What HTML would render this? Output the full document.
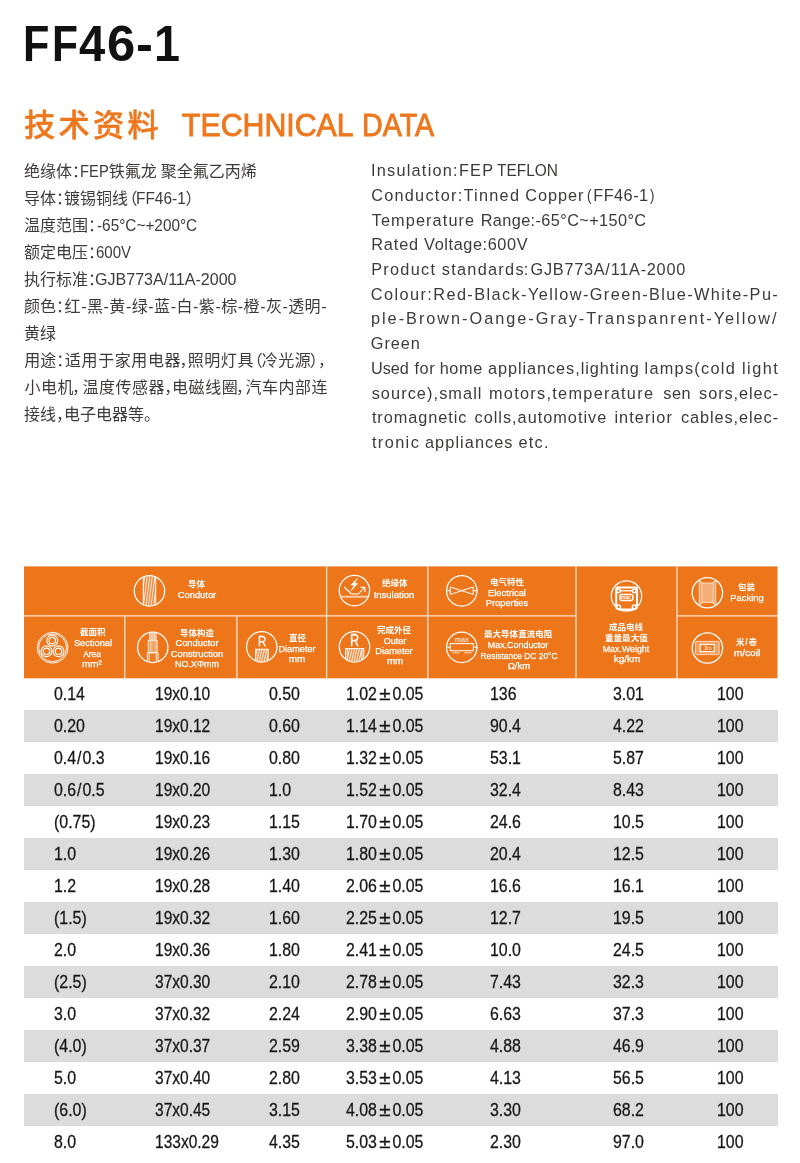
<!DOCTYPE html>
<html lang="zh"><head><meta charset="utf-8"><title>FF46-1</title><style>
html,body{margin:0;padding:0;background:#fff}
h1,h2{margin:0;font:inherit}
body{width:800px;height:1163px;position:relative;overflow:hidden;font-family:"Liberation Sans",sans-serif}
#pg{position:absolute;left:0;top:0;width:800px;height:1163px;will-change:transform}
.t{position:absolute;white-space:nowrap;line-height:1;display:block}
.c{position:absolute;display:block;overflow:visible}
.c text{font-family:"Liberation Sans","Noto Sans CJK SC",sans-serif}
.g{position:absolute;left:24px;width:753.5px;height:32px;background:#dcdcdc}
.d{position:absolute;white-space:nowrap;line-height:1;font-size:18.4px;color:#161616;-webkit-text-stroke:.28px #161616;transform:scaleX(0.865);transform-origin:0 0}
.d b{font-weight:normal;display:inline-block;width:17.9px;text-align:center;transform:scaleX(1.3)}
.d u{text-decoration:none;padding:0 1.1px}
</style></head><body><div id="pg">
<h1><span class="t" style="top:19.00px;font-size:50.8px;color:#111;font-weight:bold;left:23.15px;transform:scaleX(0.8494);transform-origin:0 0;">F</span><span class="t" style="top:19.00px;font-size:50.8px;color:#111;font-weight:bold;left:51.64px;transform:scaleX(0.8380);transform-origin:0 0;">F</span><span class="t" style="top:19.00px;font-size:50.8px;color:#111;font-weight:bold;left:78.50px;transform:scaleX(0.9274);transform-origin:0 0;">4</span><span class="t" style="top:19.00px;font-size:50.8px;color:#111;font-weight:bold;left:106.82px;transform:scaleX(0.9980);transform-origin:0 0;">6</span><span class="t" style="top:19.00px;font-size:50.8px;color:#111;font-weight:bold;left:136.11px;transform:scaleX(1.0005);transform-origin:0 0;">-</span><span class="t" style="top:19.00px;font-size:50.8px;color:#111;font-weight:bold;left:153.88px;transform:scaleX(0.9197);transform-origin:0 0;">1</span></h1>
<h2>
<svg class="c" style="left:23.50px;top:108.60px" width="140.00" height="31.20" viewBox="0 -880 4487 1000"><text x="0 1107 2213 3320" y="0" font-size="1000" font-weight="500" fill="#ee761c" stroke="#ee761c" stroke-width="14">技术资料</text></svg>
<span class="t" style="top:109.00px;font-size:32.2px;color:#ee761c;left:181.53px;transform:scaleX(0.9410);transform-origin:0 0;-webkit-text-stroke:0.9px #ee761c;">TECHNICAL</span>
<span class="t" style="top:109.00px;font-size:32.2px;color:#ee761c;left:361.51px;transform:scaleX(0.8890);transform-origin:0 0;-webkit-text-stroke:0.9px #ee761c;">DATA</span>
</h2>
<div class="lc">
<svg class="c" style="left:-0.40px;top:162.50px" width="340.00" height="16.00" viewBox="0 -880 21250 1000"><text x="1500 2500 3500 4500 6800 7800 8800 10050 11050 12050 13050 14050 15050" y="0" font-size="1000" fill="#3e3a39">绝缘体：铁氟龙聚全氟乙丙烯</text></svg>
<span class="t" style="top:163.00px;font-size:16.2px;color:#3e3a39;left:80.09px;transform:scaleX(0.9151);transform-origin:0 0;">FEP</span>
<svg class="c" style="left:-0.40px;top:189.50px" width="340.00" height="16.00" viewBox="0 -880 21250 1000"><text x="1500 2500 3500 4000 5000 6000 7000 7589 11592" y="0" font-size="1000" fill="#3e3a39">导体：镀锡铜线（）</text></svg>
<span class="t" style="top:190.00px;font-size:16.2px;color:#3e3a39;left:135.79px;transform:scaleX(0.9544);transform-origin:0 0;">FF46-1</span>
<svg class="c" style="left:-0.40px;top:216.50px" width="340.00" height="16.00" viewBox="0 -880 21250 1000"><text x="1500 2500 3500 4500 5500" y="0" font-size="1000" fill="#3e3a39">温度范围：</text></svg>
<span class="t" style="top:217.00px;font-size:16.2px;color:#3e3a39;left:96.52px;transform:scaleX(0.9484);transform-origin:0 0;">-65°C~+200°C</span>
<svg class="c" style="left:-0.40px;top:243.50px" width="340.00" height="16.00" viewBox="0 -880 21250 1000"><text x="1500 2500 3500 4500 5500" y="0" font-size="1000" fill="#3e3a39">额定电压：</text></svg>
<span class="t" style="top:244.00px;font-size:16.2px;color:#3e3a39;left:95.79px;transform:scaleX(0.9286);transform-origin:0 0;">600V</span>
<svg class="c" style="left:-0.40px;top:270.50px" width="340.00" height="16.00" viewBox="0 -880 21250 1000"><text x="1500 2500 3500 4500 5500" y="0" font-size="1000" fill="#3e3a39">执行标准：</text></svg>
<span class="t" style="top:271.00px;font-size:16.2px;color:#3e3a39;left:95.25px;transform:scaleX(0.9913);transform-origin:0 0;">GJB773A/11A-2000</span>
<svg class="c" style="left:-0.40px;top:297.50px" width="340.00" height="16.00" viewBox="0 -880 21250 1000"><text x="1500 2500 3500 4038 5076 5436 6474 6834 7872 8232 9270 9630 10668 11028 12066 12426 13465 13824 14863 15222 16261 16620 17659 18018 19026 20076" y="0" font-size="1000" fill="#3e3a39">颜色：红-黑-黄-绿-蓝-白-紫-棕-橙-灰-透明-</text></svg>
<svg class="c" style="left:-0.40px;top:324.50px" width="340.00" height="16.00" viewBox="0 -880 21250 1000"><text x="1500 2500" y="0" font-size="1000" fill="#3e3a39">黄绿</text></svg>
<svg class="c" style="left:-0.40px;top:351.50px" width="340.00" height="16.00" viewBox="0 -880 21250 1000"><text x="1519 2519 3519 4063 5099 6135 7172 8208 9244 10280 11219 11732 12768 13804 14840 15421 16353 17389 18425 19361 19869" y="0" font-size="1000" fill="#3e3a39">用途：适用于家用电器，照明灯具（冷光源），</text></svg>
<svg class="c" style="left:-0.40px;top:378.50px" width="340.00" height="16.00" viewBox="0 -880 21250 1000"><text x="1531 2562 3593 4500 5150 6181 7212 8244 9275 10269 10756 11787 12825 13856 14744 15337 16368 17399 18430 19461" y="0" font-size="1000" fill="#3e3a39">小电机，温度传感器，电磁线圈，汽车内部连</text></svg>
<svg class="c" style="left:-0.40px;top:405.50px" width="340.00" height="16.00" viewBox="0 -880 21250 1000"><text x="1500 2500 3500 4000 5000 6000 7000 8000 9000" y="0" font-size="1000" fill="#3e3a39">接线，电子电器等。</text></svg>
</div>
<div class="rc">
<span class="t" style="top:162.00px;font-size:16.3px;color:#3e3a39;left:370.93px;letter-spacing:1.250px;">Insulation:FEP</span>
<span class="t" style="top:162.00px;font-size:16.3px;color:#3e3a39;left:497.46px;transform:scaleX(0.9503);transform-origin:0 0;">TEFLON</span>
<span class="t" style="top:187.00px;font-size:16.3px;color:#3e3a39;left:371.14px;letter-spacing:1.267px;">Conductor:Tinned</span>
<span class="t" style="top:187.00px;font-size:16.3px;color:#3e3a39;left:525.14px;letter-spacing:0.997px;">Copper</span>
<span class="t" style="top:187.00px;font-size:16.3px;color:#3e3a39;left:586.88px;transform:scaleX(0.8180);transform-origin:0 0;">(</span>
<span class="t" style="top:187.00px;font-size:16.3px;color:#3e3a39;left:593.23px;letter-spacing:0.479px;">FF46-1</span>
<span class="t" style="top:187.00px;font-size:16.3px;color:#3e3a39;left:650.00px;transform:scaleX(0.8180);transform-origin:0 0;">)</span>
<span class="t" style="top:212.00px;font-size:16.3px;color:#3e3a39;left:371.65px;letter-spacing:1.111px;">Temperature</span>
<span class="t" style="top:212.00px;font-size:16.3px;color:#3e3a39;left:480.63px;letter-spacing:0.397px;">Range:-65°C~+150°C</span>
<span class="t" style="top:236.00px;font-size:16.3px;color:#3e3a39;left:371.13px;letter-spacing:0.898px;">Rated</span>
<span class="t" style="top:236.00px;font-size:16.3px;color:#3e3a39;left:424.10px;letter-spacing:0.595px;">Voltage:600V</span>
<span class="t" style="top:261.00px;font-size:16.3px;color:#3e3a39;left:371.13px;letter-spacing:1.291px;">Product</span>
<span class="t" style="top:261.00px;font-size:16.3px;color:#3e3a39;left:441.75px;letter-spacing:1.285px;">standards</span>
<span class="t" style="top:261.00px;font-size:16.3px;color:#3e3a39;left:523.73px;letter-spacing:0.217px;">:</span>
<span class="t" style="top:261.00px;font-size:16.3px;color:#3e3a39;left:530.49px;letter-spacing:0.743px;">GJB773A/11A-2000</span>
<span class="t" style="top:286.00px;font-size:16.3px;color:#3e3a39;left:370.84px;letter-spacing:1.419px;">Colour:Red-Black-Yellow-Green-Blue-White-Pu-</span>
<span class="t" style="top:310.00px;font-size:16.3px;color:#3e3a39;left:370.98px;letter-spacing:1.980px;">ple-Brown-Oange-Gray-Transpanrent-Yellow/</span>
<span class="t" style="top:335.00px;font-size:16.3px;color:#3e3a39;left:370.84px;letter-spacing:0.944px;">Green</span>
<span class="t" style="top:360.00px;font-size:16.3px;color:#3e3a39;left:370.98px;transform:scaleX(0.9967);transform-origin:0 0;">Used</span>
<span class="t" style="top:360.00px;font-size:16.3px;color:#3e3a39;left:414.50px;letter-spacing:0.529px;">for</span>
<span class="t" style="top:360.00px;font-size:16.3px;color:#3e3a39;left:439.73px;letter-spacing:0.585px;">home</span>
<span class="t" style="top:360.00px;font-size:16.3px;color:#3e3a39;left:487.99px;letter-spacing:0.934px;">appliances,lighting</span>
<span class="t" style="top:360.00px;font-size:16.3px;color:#3e3a39;left:644.48px;letter-spacing:1.292px;">lamps(cold</span>
<span class="t" style="top:360.00px;font-size:16.3px;color:#3e3a39;left:741.98px;letter-spacing:1.465px;">light</span>
<span class="t" style="top:385.00px;font-size:16.3px;color:#3e3a39;left:371.65px;letter-spacing:1.084px;">source),small</span>
<span class="t" style="top:385.00px;font-size:16.3px;color:#3e3a39;left:488.98px;letter-spacing:1.291px;">motors,temperature</span>
<span class="t" style="top:385.00px;font-size:16.3px;color:#3e3a39;left:663.25px;letter-spacing:0.495px;">sen</span>
<span class="t" style="top:385.00px;font-size:16.3px;color:#3e3a39;left:699.05px;letter-spacing:0.944px;">sors,elec-</span>
<span class="t" style="top:409.00px;font-size:16.3px;color:#3e3a39;left:371.90px;letter-spacing:0.939px;">tromagnetic</span>
<span class="t" style="top:409.00px;font-size:16.3px;color:#3e3a39;left:474.49px;letter-spacing:1.003px;">colls,automotive</span>
<span class="t" style="top:409.00px;font-size:16.3px;color:#3e3a39;left:614.38px;letter-spacing:1.096px;">interior</span>
<span class="t" style="top:409.00px;font-size:16.3px;color:#3e3a39;left:680.89px;letter-spacing:0.938px;">cables,elec-</span>
<span class="t" style="top:434.00px;font-size:16.3px;color:#3e3a39;left:371.90px;letter-spacing:1.419px;">tronic</span>
<span class="t" style="top:434.00px;font-size:16.3px;color:#3e3a39;left:424.99px;letter-spacing:1.076px;">appliances</span>
<span class="t" style="top:434.00px;font-size:16.3px;color:#3e3a39;left:518.49px;letter-spacing:1.236px;">etc.</span>
</div>
<div class="tb">
<svg class="c" style="left:0;top:0" width="800" height="700" viewBox="0 0 800 700"><rect x="24" y="566.4" width="753.5" height="111.9" fill="#ee761a"/><path stroke="#fff" stroke-opacity=".8" stroke-width="1.3" fill="none" d="M124.8 616V678.3M236.9 616V678.3M326.6 566.4V678.3M427.8 566.4V678.3M576 566.4V678.3M677 566.4V678.3M24 615.9H576M677 615.9H777.5"/></svg>
<svg class="c" style="left:188.45px;top:579.60px" width="18.10" height="8.50" viewBox="0 -880 2129 1000"><text x="0" y="0" font-size="1000" font-weight="bold" letter-spacing="6" fill="#fff">导体</text></svg>
<span class="t" style="top:590.00px;font-size:9.5px;color:#fff;left:196.53px;transform:translateX(-50%) scaleX(0.9814);-webkit-text-stroke:0.25px #fff;">Condutor</span>
<svg class="c" style="left:79.62px;top:628.10px" width="26.65" height="8.50" viewBox="0 -880 3135 1000"><text x="0" y="0" font-size="1000" font-weight="bold" letter-spacing="6" fill="#fff">截面积</text></svg>
<span class="t" style="top:638.00px;font-size:9.5px;color:#fff;left:92.50px;transform:translateX(-50%) scaleX(0.9771);-webkit-text-stroke:0.25px #fff;">Sectional</span>
<span class="t" style="top:649.00px;font-size:9.5px;color:#fff;left:92.19px;transform:translateX(-50%) scaleX(0.8763);-webkit-text-stroke:0.25px #fff;">Area</span>
<span class="t" style="top:659.00px;font-size:9.5px;color:#fff;left:92.37px;transform:translateX(-50%) scaleX(1.0424);-webkit-text-stroke:0.25px #fff;">mm²</span>
<svg class="c" style="left:180.30px;top:628.60px" width="35.20" height="8.50" viewBox="0 -880 4141 1000"><text x="0" y="0" font-size="1000" font-weight="bold" letter-spacing="6" fill="#fff">导体构造</text></svg>
<span class="t" style="top:638.00px;font-size:9.5px;color:#fff;left:196.73px;transform:translateX(-50%) scaleX(0.9846);-webkit-text-stroke:0.25px #fff;">Conductor</span>
<span class="t" style="top:649.00px;font-size:9.5px;color:#fff;left:197.32px;transform:translateX(-50%) scaleX(0.9848);-webkit-text-stroke:0.25px #fff;">Construction</span>
<span class="t" style="top:659.00px;font-size:9.5px;color:#fff;left:196.84px;transform:translateX(-50%) scaleX(0.9410);-webkit-text-stroke:0.25px #fff;">NO.XΦmm</span>
<svg class="c" style="left:288.65px;top:633.60px" width="18.10" height="8.50" viewBox="0 -880 2129 1000"><text x="0" y="0" font-size="1000" font-weight="bold" letter-spacing="6" fill="#fff">直径</text></svg>
<span class="t" style="top:644.00px;font-size:9.5px;color:#fff;left:296.89px;transform:translateX(-50%) scaleX(0.9662);-webkit-text-stroke:0.25px #fff;">Diameter</span>
<span class="t" style="top:654.00px;font-size:9.5px;color:#fff;left:297.38px;transform:translateX(-50%) scaleX(1.0436);-webkit-text-stroke:0.25px #fff;">mm</span>
<svg class="c" style="left:381.57px;top:579.30px" width="26.65" height="8.50" viewBox="0 -880 3135 1000"><text x="0" y="0" font-size="1000" font-weight="bold" letter-spacing="6" fill="#fff">绝缘体</text></svg>
<span class="t" style="top:590.00px;font-size:9.5px;color:#fff;left:394.27px;transform:translateX(-50%) scaleX(0.9991);-webkit-text-stroke:0.25px #fff;">Insulation</span>
<svg class="c" style="left:377.30px;top:625.70px" width="35.20" height="8.50" viewBox="0 -880 4141 1000"><text x="0" y="0" font-size="1000" font-weight="bold" letter-spacing="6" fill="#fff">完成外径</text></svg>
<span class="t" style="top:636.00px;font-size:9.5px;color:#fff;left:394.64px;transform:translateX(-50%) scaleX(0.9485);-webkit-text-stroke:0.25px #fff;">Outer</span>
<span class="t" style="top:646.00px;font-size:9.5px;color:#fff;left:394.14px;transform:translateX(-50%) scaleX(0.9688);-webkit-text-stroke:0.25px #fff;">Diameter</span>
<span class="t" style="top:656.00px;font-size:9.5px;color:#fff;left:394.51px;transform:translateX(-50%) scaleX(1.0264);-webkit-text-stroke:0.25px #fff;">mm</span>
<svg class="c" style="left:490.40px;top:577.90px" width="35.20" height="8.50" viewBox="0 -880 4141 1000"><text x="0" y="0" font-size="1000" font-weight="bold" letter-spacing="6" fill="#fff">电气特性</text></svg>
<span class="t" style="top:588.00px;font-size:9.5px;color:#fff;left:507.18px;transform:translateX(-50%) scaleX(0.9818);-webkit-text-stroke:0.25px #fff;">Electrical</span>
<span class="t" style="top:598.00px;font-size:9.5px;color:#fff;left:507.43px;transform:translateX(-50%) scaleX(0.9776);-webkit-text-stroke:0.25px #fff;">Properties</span>
<svg class="c" style="left:484.30px;top:629.90px" width="69.40" height="8.50" viewBox="0 -880 8165 1000"><text x="0" y="0" font-size="1000" font-weight="bold" letter-spacing="6" fill="#fff">最大导体直流电阻</text></svg>
<span class="t" style="top:640.00px;font-size:9.5px;color:#fff;left:517.90px;transform:translateX(-50%) scaleX(0.9378);-webkit-text-stroke:0.25px #fff;">Max.Conductor</span>
<span class="t" style="top:651.00px;font-size:9.5px;color:#fff;left:518.83px;transform:translateX(-50%) scaleX(0.8826);-webkit-text-stroke:0.25px #fff;">Resistance DC 20°C</span>
<span class="t" style="top:661.00px;font-size:9.5px;color:#fff;left:518.61px;transform:translateX(-50%) scaleX(1.0098);-webkit-text-stroke:0.25px #fff;">Ω/km</span>
<svg class="c" style="left:609.00px;top:623.30px" width="35.20" height="8.50" viewBox="0 -880 4141 1000"><text x="0" y="0" font-size="1000" font-weight="bold" letter-spacing="6" fill="#fff">成品电线</text></svg>
<svg class="c" style="left:605.12px;top:634.40px" width="43.75" height="8.50" viewBox="0 -880 5147 1000"><text x="0" y="0" font-size="1000" font-weight="bold" letter-spacing="6" fill="#fff">重量最大值</text></svg>
<span class="t" style="top:644.00px;font-size:9.5px;color:#fff;left:626.04px;transform:translateX(-50%) scaleX(0.9300);-webkit-text-stroke:0.25px #fff;">Max.Weight</span>
<span class="t" style="top:654.00px;font-size:9.5px;color:#fff;left:626.51px;transform:translateX(-50%) scaleX(1.0447);-webkit-text-stroke:0.25px #fff;">kg/km</span>
<svg class="c" style="left:738.15px;top:583.00px" width="18.10" height="8.50" viewBox="0 -880 2129 1000"><text x="0" y="0" font-size="1000" font-weight="bold" letter-spacing="6" fill="#fff">包装</text></svg>
<span class="t" style="top:593.00px;font-size:9.5px;color:#fff;left:746.87px;transform:translateX(-50%) scaleX(0.9888);-webkit-text-stroke:0.25px #fff;">Packing</span>
<svg class="c" style="left:736.05px;top:638.10px" width="22.10" height="8.50" viewBox="0 -880 2600 1000"><text x="0 1089 1478" y="0" font-size="1000" font-weight="bold" fill="#fff">米/卷</text></svg>
<span class="t" style="top:648.00px;font-size:9.5px;color:#fff;left:746.71px;transform:translateX(-50%) scaleX(1.0679);-webkit-text-stroke:0.25px #fff;">m/coil</span>
<svg class="c" style="left:0;top:0" width="800" height="700" viewBox="0 0 800 700" fill="none" stroke="#fff" stroke-width="1.25">
<defs>
<clipPath id="k1"><circle cx="149.5" cy="590.9" r="14.7"/></clipPath>
<clipPath id="k3"><circle cx="152.75" cy="647.4" r="14.7"/></clipPath>
<clipPath id="k4"><circle cx="261.75" cy="646.9" r="14.7"/></clipPath>
<clipPath id="k6"><circle cx="354.5" cy="646.9" r="14.7"/></clipPath>
<clipPath id="b1"><rect x="142.9" y="570" width="13.2" height="42"/></clipPath>
<clipPath id="b4"><rect x="255.6" y="649" width="12.6" height="20"/></clipPath><clipPath id="b6"><rect x="347.4" y="648.4" width="14.5" height="20"/></clipPath>
</defs>
<circle cx="149.5" cy="590.9" r="15.2"/>
<g clip-path="url(#k1)">
<rect x="143.3" y="570" width="12.4" height="42" fill="rgba(255,255,255,.15)" stroke="none"/>
<path d="M143.3 570V612M155.7 570V612" stroke-width="1"/>
<g clip-path="url(#b1)">
<path d="M135.50 608L139.90 574M138.05 608L142.45 574M140.60 608L145.00 574M143.15 608L147.55 574M145.70 608L150.10 574M148.25 608L152.65 574M150.80 608L155.20 574M153.35 608L157.75 574M155.90 608L160.30 574" stroke-width=".9" stroke="rgba(255,255,255,.95)"/>
</g></g>
<circle cx="52.6" cy="647.75" r="15.4" stroke-width="1.0"/>
<circle cx="52.6" cy="647.75" r="13.9" stroke-width="0.9"/>
<circle cx="52.25" cy="640.5" r="5.4" stroke-width="1.15"/>
<circle cx="52.25" cy="640.5" r="3.2" stroke-width="1.15"/>
<circle cx="46.5" cy="651.25" r="5.4" stroke-width="1.15"/>
<circle cx="46.5" cy="651.25" r="3.2" stroke-width="1.15"/>
<circle cx="58.5" cy="651.25" r="5.4" stroke-width="1.15"/>
<circle cx="58.5" cy="651.25" r="3.2" stroke-width="1.15"/>
<circle cx="152.75" cy="647.4" r="15.2"/>
<g clip-path="url(#k3)">
<rect x="149.3" y="628" width="7" height="12.2" fill="rgba(255,255,255,.3)" stroke="none"/>
<path d="M149.6 628V640M151.2 628V640M152.9 628V640M154.6 628V640M156.1 628V640" stroke-width=".8" stroke="rgba(255,255,255,.95)"/>
<rect x="148.3" y="640.3" width="8.8" height="12.2" fill="rgba(255,255,255,.22)" stroke="none"/>
<path d="M148.3 640.3H157.1V652.5H148.3Z" stroke-width=".9"/>
<path d="M150.3 640.5V652.3M152 640.5V652.3M155 640.5V652.3" stroke-width=".7" stroke="rgba(255,255,255,.8)"/>
<rect x="147.3" y="652.8" width="10.8" height="12" fill="rgba(255,255,255,.06)" stroke="none"/>
<path d="M147.3 665V652.9H158.1V665" stroke-width=".9"/>
<path d="M149.2 653.5V665M156.3 653.5V665" stroke-width=".9" stroke="rgba(255,255,255,.95)"/>
</g>
<circle cx="261.75" cy="646.9" r="15.2"/>
<g clip-path="url(#k4)">
<rect x="255.6" y="649" width="12.6" height="15" fill="rgba(255,255,255,.18)" stroke="none"/>
<path d="M255.7 665V649.2H268.1V665" stroke-width="1.05"/>
<g clip-path="url(#b4)">
<path d="M251.15 664L254.75 649M253.60 664L257.20 649M256.05 664L259.65 649M258.50 664L262.10 649M260.95 664L264.55 649M263.40 664L267.00 649M265.85 664L269.45 649M268.30 664L271.90 649" stroke-width=".9"/>
</g></g>
<circle cx="354.4" cy="590.6" r="15.2"/>
<path d="M357.7 578.1L350.9 585L354.2 585.4L350.7 591.1L357.7 583.6L354.5 583.2Z" fill="#fff" stroke="#fff" stroke-width=".5" stroke-linejoin="round"/>
<path d="M344.2 587L350.4 593Q351.5 594 353 594H357Q358.5 594 359.5 592.9L364.5 587.5" stroke-width="1.1"/>
<path d="M360.2 587.2L364.7 587.4L365 592" stroke-width="1.1"/>
<path d="M341.2 596.3H367.8" stroke-width="1" stroke="rgba(255,255,255,.8)"/><path d="M341.8 597.5H367.2" stroke-width="1" stroke="rgba(255,255,255,.45)"/>
<circle cx="354.5" cy="646.9" r="15.2"/>
<g clip-path="url(#k6)">
<rect x="345.4" y="648.3" width="18.5" height="15" fill="rgba(255,255,255,.16)" stroke="none"/>
<path d="M345.6 665V648.5H363.7V665" stroke-width="1.05"/>
<path d="M347.4 649V665M361.9 649V665" stroke-width=".9"/>
<g clip-path="url(#b6)">
<path d="M343.75 664L347.15 648.6M346.20 664L349.60 648.6M348.65 664L352.05 648.6M351.10 664L354.50 648.6M353.55 664L356.95 648.6M356.00 664L359.40 648.6M358.45 664L361.85 648.6M360.90 664L364.30 648.6" stroke-width=".9"/>
</g></g>
<circle cx="461.75" cy="590.9" r="15.2"/>
<path d="M446 590.7H450.2M473.3 590.7H477.5M450.3 587V594.4L473.2 587V594.4Z" stroke-width="1"/>
<circle cx="461.75" cy="647.4" r="15.2"/>
<path d="M446 647.2H450.2M473.3 647.2H477.5" stroke-width="1"/><rect x="450.3" y="643.6" width="23" height="7.1" stroke-width="1"/>
<path d="M452.3 652.8H459.5M464.3 652.8H471.5" stroke-width="1.4" stroke="rgba(255,255,255,.55)"/>
<circle cx="626.5" cy="596" r="15.2"/>
<path d="M617.3 587.6H635.9Q637 587.6 637 588.7V606Q637 609.4 633.5 609.4H619.5Q616.2 609.4 616.2 606V588.7Q616.2 587.6 617.3 587.6Z" stroke-width="2"/>
<path d="M621 590.8H632" stroke-width="1.3"/>
<circle cx="618.6" cy="590.8" r="1.9" fill="#ee761a" stroke="#fff" stroke-width="1.5"/>
<circle cx="634.3" cy="590.8" r="1.9" fill="#ee761a" stroke="#fff" stroke-width="1.5"/>
<circle cx="618.6" cy="607" r="1.9" fill="#ee761a" stroke="#fff" stroke-width="1.5"/>
<circle cx="634.3" cy="607" r="1.9" fill="#ee761a" stroke="#fff" stroke-width="1.5"/>
<rect x="620" y="594.4" width="12.8" height="6" rx="2" stroke-width="1.5"/>
<circle cx="707.4" cy="592.75" r="15.2"/>
<path d="M699.3 581.5H701.7L702.1 583H712.9L713.3 581.5H715.7V604H713.3L712.9 602.4H702.1L701.7 604H699.3Z" fill="rgba(255,255,255,.33)" stroke="rgba(255,255,255,.8)" stroke-width=".9"/>
<path d="M701.9 583V602.4M713.1 583V602.4" stroke="rgba(255,255,255,.7)" stroke-width=".8"/>
<rect x="702.3" y="583.4" width="10.4" height="18.6" fill="rgba(255,255,255,.12)" stroke="none"/>
<circle cx="707.4" cy="648" r="15.2"/>
<rect x="695.5" y="641.4" width="23.6" height="13.2" rx=".8" fill="rgba(255,255,255,.3)" stroke="rgba(255,255,255,.75)" stroke-width=".9"/>
<rect x="700.3" y="644.5" width="14" height="7.1" fill="#ee761a" stroke="rgba(255,255,255,.9)" stroke-width="1.2"/>
</svg>
<span class="t" style="top:634.00px;font-size:14.5px;color:#fff;left:258.10px;transform:scaleX(0.7922);transform-origin:0 0;-webkit-text-stroke:.3px #fff;">R</span>
<span class="t" style="top:633.00px;font-size:15.9px;color:#fff;left:350.26px;transform:scaleX(0.7999);transform-origin:0 0;-webkit-text-stroke:.3px #fff;">R</span>
<span class="t" style="top:637.00px;font-size:6.8px;color:#fff;left:454.53px;transform:scaleX(1.0529);transform-origin:0 0;">max</span>
<span class="t" style="top:596.00px;font-size:4.8px;color:#fff;left:621.48px;transform:scaleX(1.0553);transform-origin:0 0;-webkit-text-stroke:.15px #fff;">max</span>
<span class="t" style="top:646.00px;font-size:5.6px;color:#fff;left:703.70px;transform:scaleX(0.9841);transform-origin:0 0;">3m</span>
<span class="d" style="left:53.60px;top:685px;">0.14</span>
<span class="d" style="left:154.95px;top:685px;transform:scaleX(0.844)">19x0.10</span>
<span class="d" style="left:268.60px;top:685px;">0.50</span>
<span class="d" style="left:345.70px;top:685px">1.02<b>±</b>0.05</span>
<span class="d" style="left:489.80px;top:685px;">136</span>
<span class="d" style="left:613.20px;top:685px;">3.01</span>
<span class="d" style="left:717.20px;top:685px;">100</span>
<div class="g" style="top:710px"></div>
<span class="d" style="left:53.60px;top:717px;">0.20</span>
<span class="d" style="left:154.95px;top:717px;transform:scaleX(0.844)">19x0.12</span>
<span class="d" style="left:268.60px;top:717px;">0.60</span>
<span class="d" style="left:345.70px;top:717px">1.14<b>±</b>0.05</span>
<span class="d" style="left:489.80px;top:717px;">90.4</span>
<span class="d" style="left:613.20px;top:717px;">4.22</span>
<span class="d" style="left:717.20px;top:717px;">100</span>
<span class="d" style="left:53.60px;top:749px;">0.4<u>/</u>0.3</span>
<span class="d" style="left:154.95px;top:749px;transform:scaleX(0.844)">19x0.16</span>
<span class="d" style="left:268.60px;top:749px;">0.80</span>
<span class="d" style="left:345.70px;top:749px">1.32<b>±</b>0.05</span>
<span class="d" style="left:489.80px;top:749px;">53.1</span>
<span class="d" style="left:613.20px;top:749px;">5.87</span>
<span class="d" style="left:717.20px;top:749px;">100</span>
<div class="g" style="top:774px"></div>
<span class="d" style="left:53.60px;top:781px;">0.6<u>/</u>0.5</span>
<span class="d" style="left:154.95px;top:781px;transform:scaleX(0.844)">19x0.20</span>
<span class="d" style="left:268.60px;top:781px;">1.0</span>
<span class="d" style="left:345.70px;top:781px">1.52<b>±</b>0.05</span>
<span class="d" style="left:489.80px;top:781px;">32.4</span>
<span class="d" style="left:613.20px;top:781px;">8.43</span>
<span class="d" style="left:717.20px;top:781px;">100</span>
<span class="d" style="left:53.60px;top:813px;">(0.75)</span>
<span class="d" style="left:154.95px;top:813px;transform:scaleX(0.844)">19x0.23</span>
<span class="d" style="left:268.60px;top:813px;">1.15</span>
<span class="d" style="left:345.70px;top:813px">1.70<b>±</b>0.05</span>
<span class="d" style="left:489.80px;top:813px;">24.6</span>
<span class="d" style="left:613.20px;top:813px;">10.5</span>
<span class="d" style="left:717.20px;top:813px;">100</span>
<div class="g" style="top:838px"></div>
<span class="d" style="left:53.60px;top:845px;">1.0</span>
<span class="d" style="left:154.95px;top:845px;transform:scaleX(0.844)">19x0.26</span>
<span class="d" style="left:268.60px;top:845px;">1.30</span>
<span class="d" style="left:345.70px;top:845px">1.80<b>±</b>0.05</span>
<span class="d" style="left:489.80px;top:845px;">20.4</span>
<span class="d" style="left:613.20px;top:845px;">12.5</span>
<span class="d" style="left:717.20px;top:845px;">100</span>
<span class="d" style="left:53.60px;top:877px;">1.2</span>
<span class="d" style="left:154.95px;top:877px;transform:scaleX(0.844)">19x0.28</span>
<span class="d" style="left:268.60px;top:877px;">1.40</span>
<span class="d" style="left:345.70px;top:877px">2.06<b>±</b>0.05</span>
<span class="d" style="left:489.80px;top:877px;">16.6</span>
<span class="d" style="left:613.20px;top:877px;">16.1</span>
<span class="d" style="left:717.20px;top:877px;">100</span>
<div class="g" style="top:902px"></div>
<span class="d" style="left:53.60px;top:909px;">(1.5)</span>
<span class="d" style="left:154.95px;top:909px;transform:scaleX(0.844)">19x0.32</span>
<span class="d" style="left:268.60px;top:909px;">1.60</span>
<span class="d" style="left:345.70px;top:909px">2.25<b>±</b>0.05</span>
<span class="d" style="left:489.80px;top:909px;">12.7</span>
<span class="d" style="left:613.20px;top:909px;">19.5</span>
<span class="d" style="left:717.20px;top:909px;">100</span>
<span class="d" style="left:53.60px;top:941px;">2.0</span>
<span class="d" style="left:154.95px;top:941px;transform:scaleX(0.844)">19x0.36</span>
<span class="d" style="left:268.60px;top:941px;">1.80</span>
<span class="d" style="left:345.70px;top:941px">2.41<b>±</b>0.05</span>
<span class="d" style="left:489.80px;top:941px;">10.0</span>
<span class="d" style="left:613.20px;top:941px;">24.5</span>
<span class="d" style="left:717.20px;top:941px;">100</span>
<div class="g" style="top:966px"></div>
<span class="d" style="left:53.60px;top:973px;">(2.5)</span>
<span class="d" style="left:154.95px;top:973px;transform:scaleX(0.844)">37x0.30</span>
<span class="d" style="left:268.60px;top:973px;">2.10</span>
<span class="d" style="left:345.70px;top:973px">2.78<b>±</b>0.05</span>
<span class="d" style="left:489.80px;top:973px;">7.43</span>
<span class="d" style="left:613.20px;top:973px;">32.3</span>
<span class="d" style="left:717.20px;top:973px;">100</span>
<span class="d" style="left:53.60px;top:1005px;">3.0</span>
<span class="d" style="left:154.95px;top:1005px;transform:scaleX(0.844)">37x0.32</span>
<span class="d" style="left:268.60px;top:1005px;">2.24</span>
<span class="d" style="left:345.70px;top:1005px">2.90<b>±</b>0.05</span>
<span class="d" style="left:489.80px;top:1005px;">6.63</span>
<span class="d" style="left:613.20px;top:1005px;">37.3</span>
<span class="d" style="left:717.20px;top:1005px;">100</span>
<div class="g" style="top:1030px"></div>
<span class="d" style="left:53.60px;top:1037px;">(4.0)</span>
<span class="d" style="left:154.95px;top:1037px;transform:scaleX(0.844)">37x0.37</span>
<span class="d" style="left:268.60px;top:1037px;">2.59</span>
<span class="d" style="left:345.70px;top:1037px">3.38<b>±</b>0.05</span>
<span class="d" style="left:489.80px;top:1037px;">4.88</span>
<span class="d" style="left:613.20px;top:1037px;">46.9</span>
<span class="d" style="left:717.20px;top:1037px;">100</span>
<span class="d" style="left:53.60px;top:1069px;">5.0</span>
<span class="d" style="left:154.95px;top:1069px;transform:scaleX(0.844)">37x0.40</span>
<span class="d" style="left:268.60px;top:1069px;">2.80</span>
<span class="d" style="left:345.70px;top:1069px">3.53<b>±</b>0.05</span>
<span class="d" style="left:489.80px;top:1069px;">4.13</span>
<span class="d" style="left:613.20px;top:1069px;">56.5</span>
<span class="d" style="left:717.20px;top:1069px;">100</span>
<div class="g" style="top:1094px"></div>
<span class="d" style="left:53.60px;top:1101px;">(6.0)</span>
<span class="d" style="left:154.95px;top:1101px;transform:scaleX(0.844)">37x0.45</span>
<span class="d" style="left:268.60px;top:1101px;">3.15</span>
<span class="d" style="left:345.70px;top:1101px">4.08<b>±</b>0.05</span>
<span class="d" style="left:489.80px;top:1101px;">3.30</span>
<span class="d" style="left:613.20px;top:1101px;">68.2</span>
<span class="d" style="left:717.20px;top:1101px;">100</span>
<span class="d" style="left:53.60px;top:1133px;">8.0</span>
<span class="d" style="left:154.95px;top:1133px;transform:scaleX(0.844)">133x0.29</span>
<span class="d" style="left:268.60px;top:1133px;">4.35</span>
<span class="d" style="left:345.70px;top:1133px">5.03<b>±</b>0.05</span>
<span class="d" style="left:489.80px;top:1133px;">2.30</span>
<span class="d" style="left:613.20px;top:1133px;">97.0</span>
<span class="d" style="left:717.20px;top:1133px;">100</span>
</div>
</div></body></html>
